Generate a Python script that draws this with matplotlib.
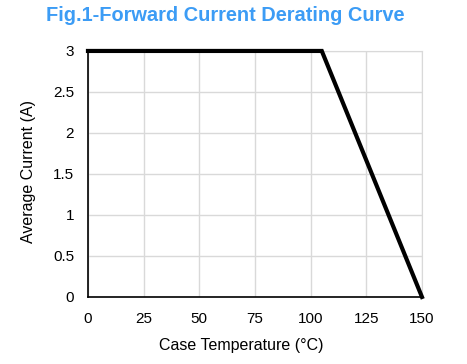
import matplotlib
matplotlib.use("Agg")
import matplotlib.pyplot as plt

# derating curve points
temp_c = [0, 105, 150]
current_a = [3, 3, 0]

x_ticks = [0, 25, 50, 75, 100, 125, 150]
y_ticks = [0, 0.5, 1, 1.5, 2, 2.5, 3]
y_labels = ["0", "0.5", "1", "1.5", "2", "2.5", "3"]

plt.rcParams['font.family'] = ['Liberation Sans', 'DejaVu Sans']

fig = plt.figure(figsize=(4.67, 3.64), dpi=100)
ax = fig.add_axes([0.1884, 0.1841, 0.7152, 0.6759])

ax.plot(temp_c, current_a, color='black', linewidth=3, solid_joinstyle='miter',
        clip_on=False, zorder=3)

ax.set_xlim(0, 150)
ax.set_ylim(0, 3)
ax.set_xticks(x_ticks)
ax.set_yticks(y_ticks)
ax.set_yticklabels(y_labels)
ax.grid(True, color='#d9d9d9', linewidth=1)
ax.set_axisbelow(True)

for side in ['top', 'right']:
    ax.spines[side].set_color('#d9d9d9')
for side in ['left', 'bottom']:
    ax.spines[side].set_color('black')
    ax.spines[side].set_linewidth(1.2)

ax.tick_params(length=0, labelsize=11)
ax.tick_params(axis='x', pad=11)
ax.tick_params(axis='y', pad=10)

# axis titles placed by hand (the source has them slightly off-centre)
fig.text(0.517, 0.052, 'Case Temperature (°C)', ha='center', va='center', fontsize=11.5)
fig.text(0.060, 0.530, 'Average Current (A)', ha='center', va='center',
         fontsize=11.5, rotation=90)

fig.text(0.483, 0.958, 'Fig.1-Forward Current Derating Curve', ha='center', va='center',
         fontsize=14.4, fontweight='bold', color='#3c9cf5')

fig.savefig('out.png', dpi=100)
